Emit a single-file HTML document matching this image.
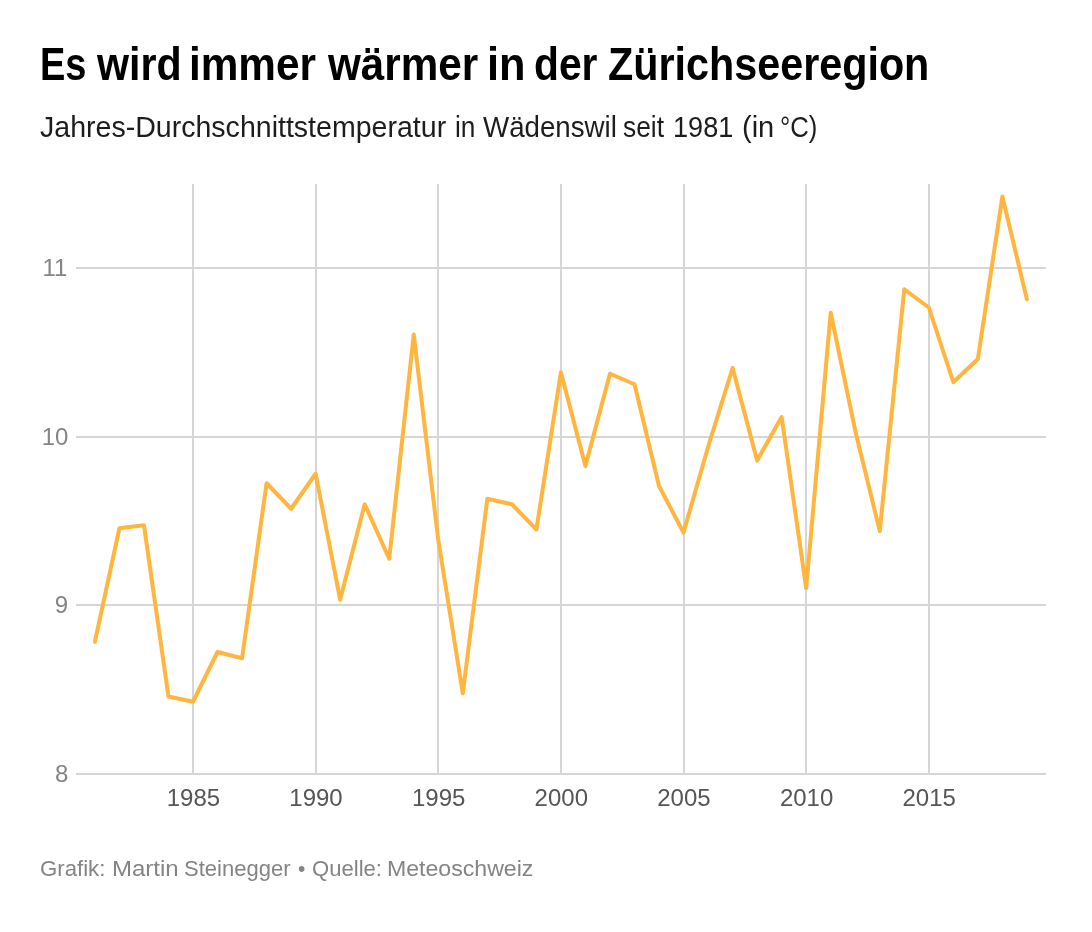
<!DOCTYPE html>
<html lang="de"><head><meta charset="utf-8"><title>Es wird immer wärmer in der Zürichseeregion</title>
<style>
html,body{margin:0;padding:0;background:#fff;}
body{width:1092px;height:932px;position:relative;overflow:hidden;font-family:"Liberation Sans",sans-serif;}
.t{position:absolute;left:0;width:1092px;white-space:nowrap;margin:0;}
.t span{position:absolute;top:0;transform-origin:0 0;display:block;}
h1.t{top:39.25px;height:50px;font-size:46.5px;line-height:50px;font-weight:700;color:#000;}
p.sub{top:111.8px;height:30px;font-size:28.95px;line-height:30px;color:#1d1d1d;}
p.foot{top:854.6px;height:26px;font-size:22.8px;line-height:26px;color:#848484;}
svg.chart{position:absolute;left:0;top:0;}
svg text{font-family:"Liberation Sans",sans-serif;font-size:24px;}
.ylab text{fill:#858585;}
.xlab text{fill:#565656;}
</style></head><body>
<h1 class="t"><span style="left:39.95px;transform:scaleX(0.8173)">Es</span> <span style="left:97.3px;transform:scaleX(0.8854)">wird</span> <span style="left:189.14px;transform:scaleX(0.9098)">immer</span> <span style="left:327.9px;transform:scaleX(0.9086)">wärmer</span> <span style="left:486.97px;transform:scaleX(0.9333)">in</span> <span style="left:533.55px;transform:scaleX(0.8774)">der</span> <span style="left:608.09px;transform:scaleX(0.8883)">Zürichseeregion</span></h1>
<p class="t sub"><span style="left:40.31px;transform:scaleX(0.9865)">Jahres-Durchschnittstemperatur</span> <span style="left:455.19px;transform:scaleX(0.9067)">in</span> <span style="left:482.86px;transform:scaleX(0.9568)">Wädenswil</span> <span style="left:623.02px;transform:scaleX(0.9114)">seit</span> <span style="left:672.69px;transform:scaleX(0.9366)">1981</span> <span style="left:741.74px;transform:scaleX(1.0035)">(in</span> <span style="left:780.45px;transform:scaleX(0.8883)">°C)</span></p>
<svg class="chart" width="1092" height="932" viewBox="0 0 1092 932">
<g fill="#d6d6d6">
<rect x="192" y="184" width="2" height="589"/>
<rect x="315" y="184" width="2" height="589"/>
<rect x="437" y="184" width="2" height="589"/>
<rect x="560" y="184" width="2" height="589"/>
<rect x="683" y="184" width="2" height="589"/>
<rect x="805" y="184" width="2" height="589"/>
<rect x="928" y="184" width="2" height="589"/>
<rect x="76" y="267" width="970" height="2"/>
<rect x="76" y="436" width="970" height="2"/>
<rect x="76" y="604" width="970" height="2"/>
<rect x="76" y="773" width="970" height="2"/>
</g>
<path d="M94.89,641.75 L119.42,528.25 L143.95,525.25 L168.47,696.50 L193.00,701.75 L217.53,652.00 L242.05,658.25 L266.58,483.25 L291.11,508.75 L315.63,473.75 L340.16,599.75 L364.69,504.25 L389.22,558.75 L413.74,334.50 L438.27,540.00 L462.80,693.50 L487.32,498.75 L511.85,504.25 L536.38,529.50 L560.90,372.25 L585.43,466.00 L609.96,373.75 L634.49,384.25 L659.01,486.00 L683.54,532.50 L708.07,447.00 L732.59,368.00 L757.12,460.60 L781.65,417.00 L806.18,588.10 L830.70,312.75 L855.23,430.70 L879.76,531.00 L904.28,289.25 L928.81,307.50 L953.34,382.25 L977.86,359.00 L1002.39,196.60 L1026.92,299.35" fill="none" stroke="#ffb53e" stroke-width="4" stroke-linejoin="round" stroke-linecap="round"/>
<g class="ylab" text-anchor="end">
<text x="67.4" y="275.9">11</text>
<text x="68.4" y="444.9">10</text>
<text x="68.1" y="612.9">9</text>
<text x="68.3" y="781.9">8</text>
</g>
<g class="xlab" text-anchor="middle">
<text x="193.40" y="806">1985</text>
<text x="316.03" y="806">1990</text>
<text x="438.67" y="806">1995</text>
<text x="561.30" y="806">2000</text>
<text x="683.94" y="806">2005</text>
<text x="806.58" y="806">2010</text>
<text x="929.21" y="806">2015</text>
</g>
</svg>
<p class="t foot"><span style="left:39.98px;transform:scaleX(0.9741)">Grafik:</span> <span style="left:111.76px;transform:scaleX(1.0523)">Martin</span> <span style="left:183.93px;transform:scaleX(0.9661)">Steinegger</span> <span style="left:297.98px;transform:scaleX(0.9167)">•</span> <span style="left:312.13px;transform:scaleX(0.969)">Quelle:</span> <span style="left:386.83px;transform:scaleX(1.0134)">Meteoschweiz</span></p>
</body></html>
